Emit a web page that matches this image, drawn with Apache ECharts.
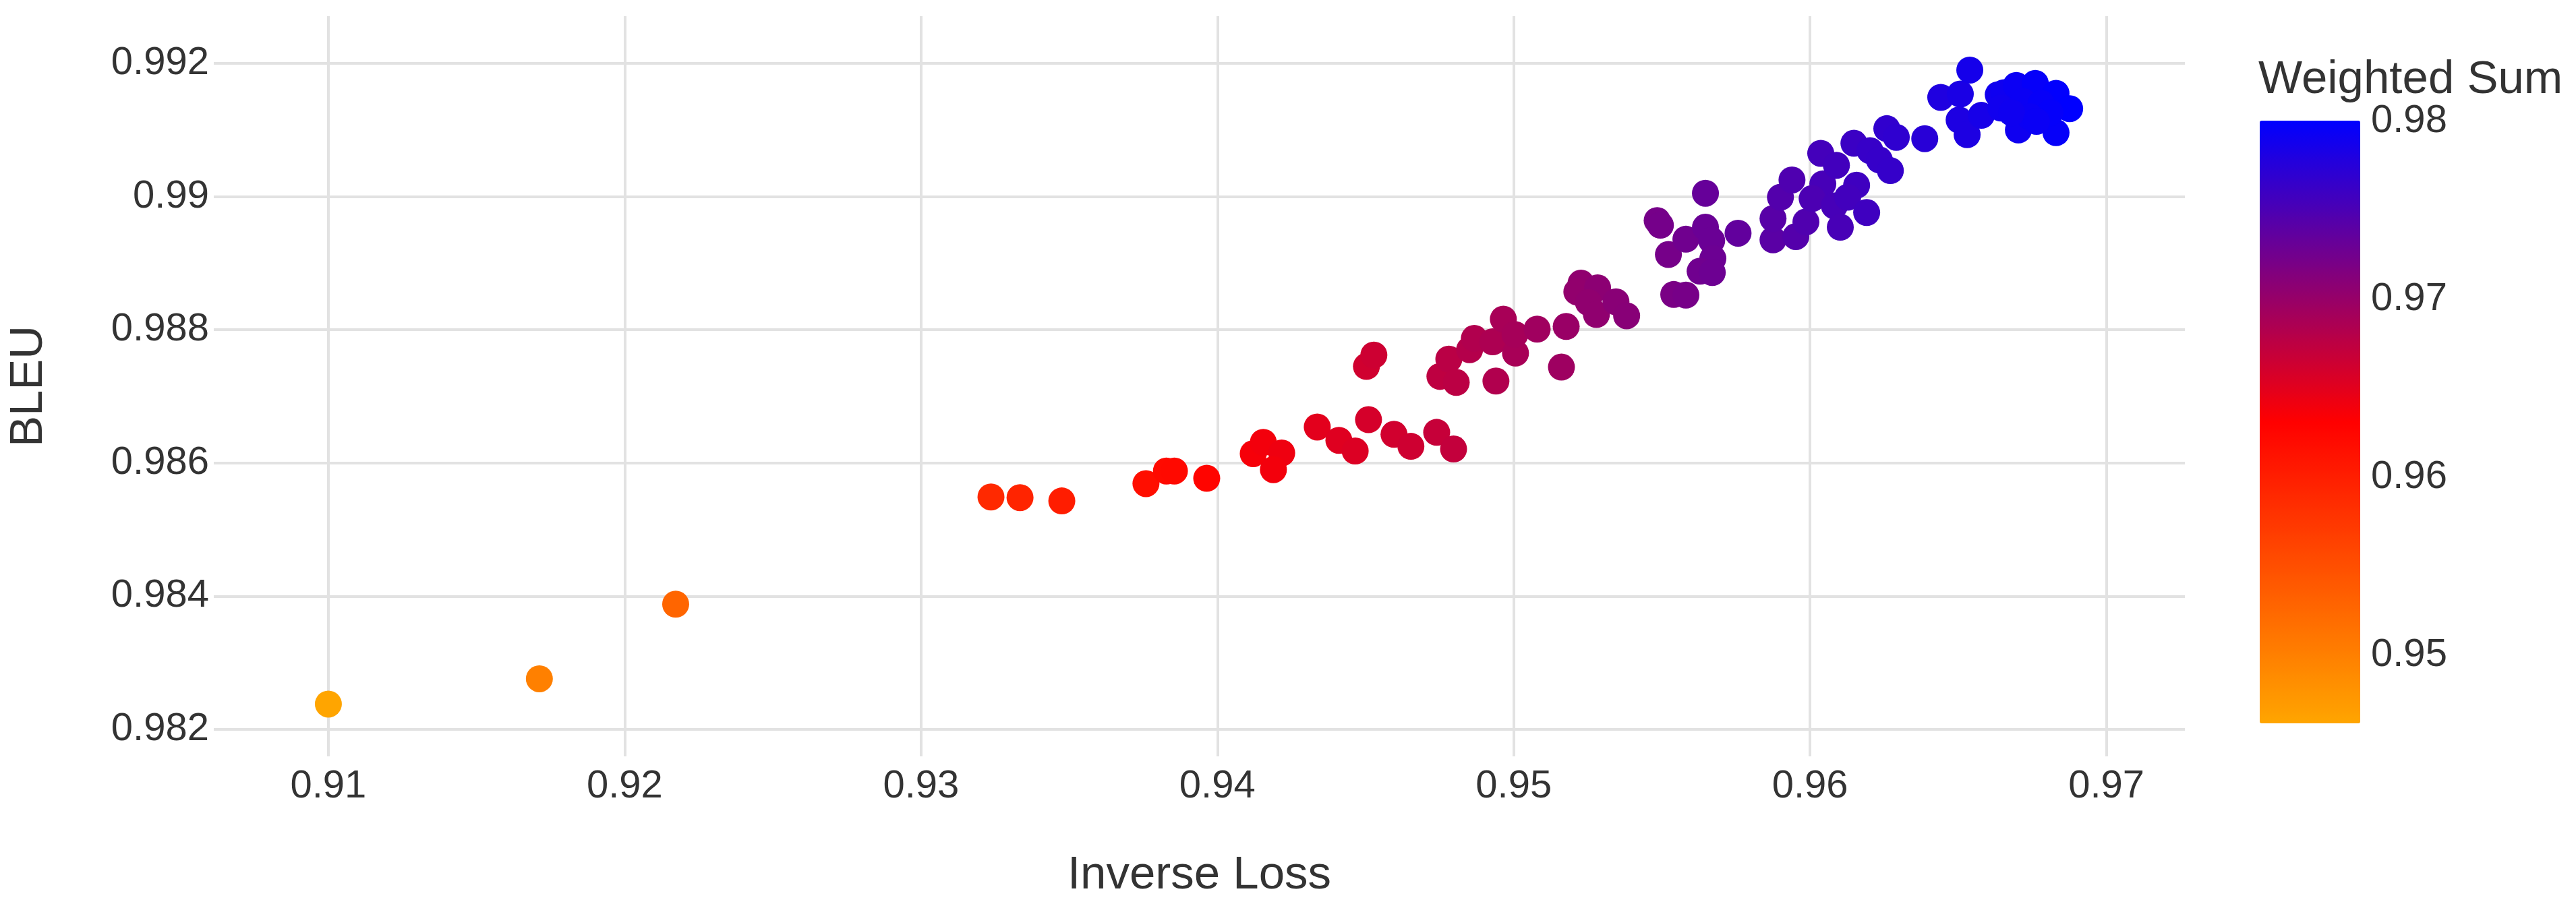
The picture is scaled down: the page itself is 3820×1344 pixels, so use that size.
<!DOCTYPE html>
<html><head><meta charset="utf-8">
<script src="https://cdn.jsdelivr.net/npm/echarts@6/dist/echarts.min.js"></script>
<style>html,body{margin:0;padding:0;background:#fff}#c{width:3820px;height:1344px}</style>
</head><body><div id="c"></div>
<script>
const inverseLoss = [
0.91000,0.91712,0.92172,
0.93236,0.93334,0.93475,0.93759,0.93828,0.93855,0.93964,0.94121,0.94155,0.94217,0.94189,
0.94337,0.94410,0.94465,0.94510,0.94596,0.94653,0.94740,0.94797,
0.94503,0.94528,0.94751,0.94781,0.94806,0.94851,0.94867,0.94929,0.94940,0.94965,0.95006,0.95004,0.95079,0.95177,0.95161,
0.95227,0.95213,0.95283,0.95252,0.95279,0.95345,0.95381,
0.95484,0.95495,0.95522,0.95581,0.95647,0.95647,0.95668,0.95672,0.95629,0.95670,0.95757,0.95540,0.95581,
0.95875,0.95875,0.95900,0.95939,0.95952,0.95986,0.96036,0.96043,0.96007,0.96082,0.96102,0.96089,0.96148,0.96202,0.96234,0.96271,0.96157,0.96127,0.96191,0.96259,0.96291,0.96387,
0.96441,0.96507,0.96539,0.96503,0.96530,0.96578,0.96635,0.96655,0.96696,0.96760,0.96830,0.96876,0.96703,0.96830,0.96644,0.96719,0.96780,0.96810,0.96742,0.96680,0.96764
];
const bleu = [
0.98238,0.98276,0.98388,
0.98549,0.98548,0.98543,0.98569,0.98588,0.98588,0.98577,0.98614,0.98631,0.98615,0.98590,
0.98654,0.98634,0.98618,0.98665,0.98643,0.98625,0.98646,0.98621,
0.98745,0.98762,0.98730,0.98756,0.98721,0.98770,0.98787,0.98782,0.98723,0.98816,0.98765,0.98793,0.98801,0.98805,0.98744,
0.98870,0.98857,0.98863,0.98841,0.98823,0.98842,0.98821,
0.98964,0.98957,0.98913,0.98936,0.98954,0.99005,0.98934,0.98907,0.98888,0.98886,0.98945,0.98853,0.98852,
0.98935,0.98967,0.98999,0.99025,0.98940,0.98962,0.99065,0.99019,0.98997,0.98986,0.98954,0.99047,0.99080,0.99069,0.99055,0.99039,0.99017,0.98999,0.98976,0.99102,0.99089,0.99087,
0.99149,0.99154,0.99190,0.99115,0.99093,0.99122,0.99153,0.99156,0.99167,0.99170,0.99155,0.99132,0.99100,0.99096,0.99133,0.99143,0.99140,0.99126,0.99120,0.99126,0.99113
];
const weightedSum = [
0.94619,0.94994,0.95280,
0.95893,0.95941,0.96009,0.96164,0.96208,0.96222,0.96271,0.96368,0.96393,0.96416,0.96390,
0.96496,0.96522,0.96542,0.96588,0.96620,0.96639,0.96693,0.96709,
0.96624,0.96645,0.96741,0.96769,0.96764,0.96811,0.96827,0.96856,0.96832,0.96891,0.96886,0.96899,0.96940,0.96991,0.96953,
0.97049,0.97035,0.97073,0.97047,0.97051,0.97094,0.97101,
0.97224,0.97226,0.97218,0.97259,0.97301,0.97326,0.97301,0.97290,0.97259,0.97278,0.97351,0.97197,0.97217,
0.97405,0.97421,0.97450,0.97482,0.97446,0.97474,0.97551,0.97531,0.97502,0.97534,0.97528,0.97568,0.97614,0.97636,0.97645,0.97655,0.97587,0.97563,0.97584,0.97681,0.97690,0.97737,
0.97795,0.97831,0.97865,0.97809,0.97812,0.97850,0.97894,0.97906,0.97932,0.97965,0.97993,0.98004,0.97902,0.97963,0.97889,0.97931,0.97960,0.97968,0.97931,0.97903,0.97939
];
const xTicks = [0.91,0.92,0.93,0.94,0.95,0.96,0.97];
const yTicks = [0.982,0.984,0.986,0.988,0.99,0.992];
const colorTicks = [0.95,0.96,0.97,0.98];
const colorMin = 0.94619, colorMax = 0.98004;

const points = inverseLoss.map((x,i)=>[x, bleu[i], weightedSum[i]]);
const FONT = "'Liberation Sans', Arial, sans-serif";
const TXT = '#333';
const fmt = v => String(+(+v).toFixed(4));

const chart = echarts.init(document.getElementById('c'), null, {renderer:'canvas'});
chart.setOption({
  backgroundColor:'#fff',
  animation:false,
  textStyle:{fontFamily:FONT},
  title:{text:'Weighted Sum', left:3349, top:84, padding:0,
    textStyle:{fontFamily:FONT, fontSize:69, fontWeight:'normal', color:TXT}},
  grid:[
    {left:316, right:580, top:24, bottom:222, containLabel:false},
    {left:3351, top:179, width:149, height:894, containLabel:false}
  ],
  xAxis:[
    {type:'value', gridIndex:0, min:0.906133, max:0.972648,
     name:'Inverse Loss', nameLocation:'middle', nameGap:142,
     nameTextStyle:{fontFamily:FONT, fontSize:69, color:TXT},
     axisLine:{show:false}, axisTick:{show:false, customValues:xTicks},
     axisLabel:{customValues:xTicks, formatter:fmt, fontFamily:FONT, fontSize:58, color:TXT, margin:16},
     splitLine:{show:true, lineStyle:{color:'#e2e2e2', width:4}}},
    {type:'value', gridIndex:1, show:false, min:0, max:1}
  ],
  yAxis:[
    {type:'value', gridIndex:0, min:0.981595, max:0.992709,
     name:'BLEU', nameLocation:'middle', nameGap:240, nameRotate:90,
     nameTextStyle:{fontFamily:FONT, fontSize:69, color:TXT},
     axisLine:{show:false}, axisTick:{show:false, customValues:yTicks},
     axisLabel:{customValues:yTicks, formatter:fmt, fontFamily:FONT, fontSize:58, color:TXT, margin:7},
     splitLine:{show:true, lineStyle:{color:'#e2e2e2', width:4}}},
    {type:'value', gridIndex:1, position:'right', min:colorMin, max:colorMax,
     axisLine:{show:false}, axisTick:{show:false, customValues:colorTicks},
     axisLabel:{customValues:colorTicks, formatter:fmt, fontFamily:FONT, fontSize:58, color:TXT, margin:16},
     splitLine:{show:false}}
  ],
  visualMap:[{
    type:'continuous', seriesIndex:0, dimension:2, min:colorMin, max:colorMax,
    calculable:false, orient:'vertical', left:3351, top:179, padding:0,
    itemWidth:149, itemHeight:894, text:null, showLabel:false,
    inRange:{color:['#FFA500','#FF0000','#0000FF']}
  }],
  series:[{
    type:'scatter', xAxisIndex:0, yAxisIndex:0, data:points,
    symbol:'circle', symbolSize:40, itemStyle:{opacity:1}
  }]
});
</script>
</body></html>
